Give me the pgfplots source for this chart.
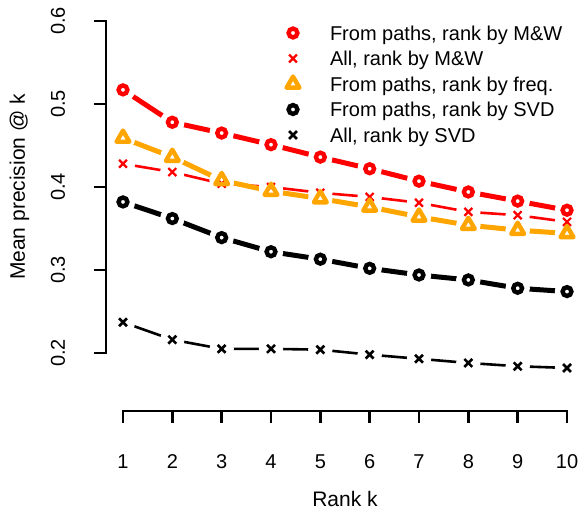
\documentclass[border=0pt]{standalone}
\usepackage{pgfplots}
\usepackage{pgfplotstable}
\pgfplotsset{compat=1.18}
\usepackage{fontspec}
\setmainfont{Liberation Sans}
\definecolor{rred}{RGB}{255,0,0}
\definecolor{rorange}{RGB}{255,165,0}
\pgfplotstableread{
k mwp mwa frq svdp svda
1 0.517 0.428 0.459 0.382 0.237
2 0.478 0.418 0.436 0.362 0.216
3 0.465 0.404 0.408 0.339 0.205
4 0.451 0.400 0.395 0.322 0.205
5 0.436 0.393 0.386 0.313 0.204
6 0.422 0.388 0.376 0.302 0.198
7 0.407 0.381 0.364 0.294 0.193
8 0.394 0.370 0.354 0.288 0.188
9 0.383 0.366 0.348 0.278 0.184
10 0.372 0.358 0.344 0.274 0.182
}\data
\begin{document}
\begin{tikzpicture}
\begin{scope}[overlay]
\begin{axis}[
  at={(0,0)}, anchor=south west,
  x=24.667pt, y=415pt,
  xmin=0.6554, xmax=10.25, ymin=0.13012, ymax=0.62,
  axis lines*=left, axis line style={draw=none},
  clip=false,
  xtick={1,...,10}, ytick={0.2,0.3,0.4,0.5,0.6},
  tick align=outside, major tick length=6pt,
  tick style={black, line width=1.3pt},
  /pgf/number format/assume math mode=true,
  tick label style={font=\fontsize{10}{12}\selectfont},
  xticklabel style={anchor=base}, xticklabel shift=23pt,
  yticklabel style={rotate=90, anchor=base}, yticklabel shift=14.5pt,
  legend style={at={(axis cs:4.2432,0.5959)}, anchor=north west, draw=none, fill=none,
    inner sep=0pt, outer sep=0pt, row sep=2.45pt, column sep=0pt,
    font=\fontsize{10}{12}\selectfont,
    nodes={inner sep=0pt, outer sep=0pt, text height=8pt, text depth=2.3pt},
    cells={anchor=base west}},
  legend image code/.code={\path[draw=none, fill=none] (-5pt,-2.3pt) rectangle (18.5pt,8pt);
     \draw[#1, overlay] plot coordinates {(0pt,3.7pt)};},
  thickl/.style={line width=2.5pt, line cap=round, line join=round},
  thinl/.style={line width=1.3pt, line cap=round, line join=round},
]
% lines with gaps round the points (R type = "b"): line, then white discs over its points
\addplot[rred, thickl, forget plot] table[x=k, y=mwp] {\data};
\addplot[white, only marks, mark=*, mark size=5.9pt, forget plot] table[x=k, y=mwp] {\data};
\addplot[rred, thinl, forget plot] table[x=k, y=mwa] {\data};
\addplot[white, only marks, mark=*, mark size=5.9pt, forget plot] table[x=k, y=mwa] {\data};
\addplot[rorange, thickl, forget plot] table[x=k, y=frq] {\data};
\addplot[white, only marks, mark=*, mark size=5.9pt, forget plot] table[x=k, y=frq] {\data};
\addplot[black, thickl, forget plot] table[x=k, y=svdp] {\data};
\addplot[white, only marks, mark=*, mark size=5.9pt, forget plot] table[x=k, y=svdp] {\data};
\addplot[black, thinl, forget plot] table[x=k, y=svda] {\data};
\addplot[white, only marks, mark=*, mark size=5.9pt, forget plot] table[x=k, y=svda] {\data};
% marks
\addplot[rred, only marks, mark=o, mark size=2.2pt, mark options={line width=2.2pt}] table[x=k, y=mwp] {\data};
\addlegendentry{From paths, rank by M\&W}
\addplot[rred, only marks, mark=x, mark size=2.8pt, mark options={line width=1.1pt}] table[x=k, y=mwa] {\data};
\addlegendentry{All, rank by M\&W}
\addplot[rorange, only marks, mark=triangle, mark size=3.7pt, mark options={line width=2.2pt, line join=round}] table[x=k, y=frq] {\data};
\addlegendentry{From paths, rank by freq.}
\addplot[black, only marks, mark=o, mark size=2.2pt, mark options={line width=2.2pt}] table[x=k, y=svdp] {\data};
\addlegendentry{From paths, rank by SVD}
\addplot[black, only marks, mark=x, mark size=2.8pt, mark options={line width=1.3pt}] table[x=k, y=svda] {\data};
\addlegendentry{All, rank by SVD}
% detached axis lines (R style)
\draw[line width=1.3pt, line cap=rect] (axis cs:0.6554,0.2) -- (axis cs:0.6554,0.6);
\draw[line width=1.3pt, line cap=rect] (axis cs:1,0.13012) -- (axis cs:10,0.13012);
% axis titles
\node[rotate=90, anchor=base, font=\fontsize{10.5}{12.6}\selectfont] at ([xshift=-40.5pt]axis cs:0.6554,0.4) {Mean precision @ k};
\node[anchor=base, font=\fontsize{10.5}{12.6}\selectfont] at ([yshift=-48pt]axis cs:5.5,0.13012) {Rank k};
\end{axis}
\end{scope}
\path (-53pt,-50.5pt) rectangle (236.5pt,205.5pt);
\end{tikzpicture}
\end{document}
